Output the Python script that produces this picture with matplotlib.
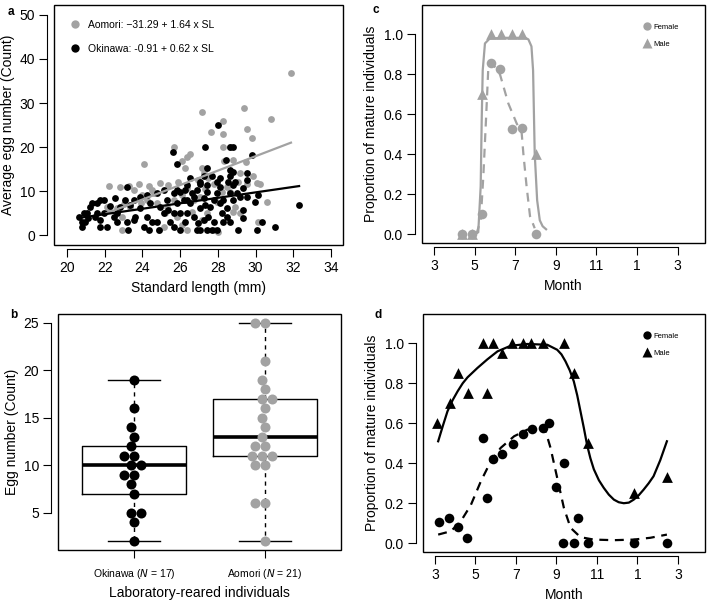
import numpy as np
import matplotlib
matplotlib.use("Agg")
import matplotlib.pyplot as plt
from matplotlib.patches import Rectangle
from matplotlib.lines import Line2D

plt.rcParams['font.family'] = ['Liberation Sans', 'DejaVu Sans']

GREY = '#a2a2a2'

# ---------------- panel a: wild-caught fish, egg number vs standard length
aomori_sl = [31.88, 27.15, 29.41, 30.80, 28.26, 27.63, 29.57, 29.83, 28.26, 25.65,
             28.26, 28.65, 26.53, 26.36, 26.09, 24.06, 29.50, 28.33, 28.83, 27.24,
             26.27, 27.15, 29.18, 22.20, 23.27, 23.80, 23.53, 24.33, 24.50, 24.94,
             25.38, 24.59, 24.24, 23.35, 23.90, 22.91, 22.65, 22.20, 24.77, 25.30,
             26.09, 25.65, 26.36, 26.97, 27.50, 27.77, 28.21, 28.65, 29.09, 29.53,
             30.06, 30.15, 30.59, 30.24, 28.92, 28.83, 29.18, 22.91, 24.90, 25.12,
             27.15, 27.42, 26.62, 25.83, 26.36, 26.09, 27.77, 28.03, 25.20, 26.71,
             27.06, 27.94, 29.89, 22.80, 22.10, 23.00, 24.00, 25.90, 27.30, 28.50]
aomori_egg = [36.9, 28.0, 28.9, 26.4, 25.8, 23.5, 24.0, 22.0, 23.0, 20.1,
              20.1, 20.1, 18.4, 17.8, 16.9, 16.1, 16.7, 16.9, 17.0, 14.0,
              15.2, 15.2, 14.2, 11.1, 11.1, 11.5, 10.2, 11.2, 10.2, 11.9,
              11.4, 9.5, 8.0, 6.4, 7.2, 4.2, 6.1, 5.7, 7.2, 6.4,
              9.1, 8.0, 10.6, 12.5, 12.9, 11.7, 9.8, 9.8, 12.1, 11.7,
              11.9, 3.0, 7.4, 11.7, 6.4, 5.3, 4.9, 1.1, 1.1, 1.9,
              3.4, 4.9, 5.3, 4.2, 1.1, 2.3, 1.1, 0.8, 4.9, 8.0,
              8.7, 7.6, 13.3, 10.9, 6.4, 7.0, 9.0, 12.0, 10.5, 11.0]

okinawa_sl = [28.03, 27.33, 28.83, 28.65, 25.61, 25.83, 28.44, 29.80, 27.42, 27.24,
              27.68, 28.83, 28.65, 29.53, 29.53, 26.53, 23.18, 28.56, 28.83, 27.94,
              27.06, 26.36, 25.65, 26.00, 25.12, 24.77, 24.24, 23.88, 23.53, 23.09,
              22.56, 21.94, 21.77, 21.59, 21.32, 20.88, 21.06, 20.62, 20.79, 20.79,
              21.10, 21.59, 21.77, 22.12, 22.47, 22.65, 23.18, 23.23, 23.62, 24.06,
              24.24, 24.50, 24.77, 25.12, 24.86, 25.38, 25.47, 25.83, 26.00, 25.65,
              26.36, 26.27, 26.53, 26.71, 26.88, 27.06, 27.24, 26.88, 27.06, 26.97,
              27.60, 27.77, 28.12, 28.30, 28.48, 28.65, 28.83, 29.00, 29.18, 27.77,
              27.68, 27.94, 28.21, 29.36, 29.36, 29.53, 29.06, 30.06, 29.97, 30.15,
              30.33, 31.03, 32.31, 26.18, 26.36, 26.62, 27.24, 27.42, 27.94, 28.12,
              27.33, 27.50, 26.71, 22.30, 21.94, 21.24, 21.50, 22.82, 23.35, 23.88,
              24.41, 24.94, 25.30, 25.83, 26.27, 27.06, 27.42, 28.12, 28.65, 28.92,
              29.36, 20.97, 21.77, 22.65, 23.53, 24.33, 26.00, 25.65, 27.42, 28.30,
              28.48, 28.65]
okinawa_egg = [25.0, 20.1, 20.1, 20.1, 18.9, 16.1, 17.0, 18.2, 15.2, 13.3,
               13.3, 14.4, 13.3, 14.0, 12.5, 12.9, 11.0, 12.1, 11.4, 12.1,
               11.7, 11.4, 9.5, 9.8, 10.2, 9.5, 9.1, 8.7, 8.0, 8.0,
               8.3, 8.0, 8.0, 7.3, 7.2, 4.9, 4.9, 4.2, 3.0, 1.9,
               3.8, 4.9, 3.4, 1.9, 4.2, 3.0, 3.0, 1.1, 4.2, 1.9,
               4.2, 3.0, 3.0, 4.9, 1.1, 5.7, 3.0, 7.2, 4.9, 4.9,
               4.9, 3.0, 7.2, 8.7, 10.2, 6.1, 3.4, 1.1, 1.1, 2.7,
               6.4, 8.0, 7.2, 8.0, 6.1, 9.5, 8.0, 9.5, 8.7, 3.0,
               1.1, 1.1, 4.9, 3.8, 5.7, 8.7, 1.1, 1.1, 7.6, 9.1,
               3.0, 1.9, 6.8, 8.0, 8.0, 9.5, 8.3, 9.8, 9.5, 11.0,
               6.8, 4.2, 4.2, 6.6, 4.9, 6.4, 4.2, 6.4, 6.8, 6.1,
               7.2, 6.4, 8.0, 10.2, 10.2, 12.1, 11.4, 12.9, 14.8, 12.1,
               10.6, 3.0, 1.9, 4.9, 3.4, 1.1, 1.1, 1.9, 1.1, 3.0,
               4.2, 3.0]

# fitted lines as drawn (intercept, slope); legend texts as printed
aomori_coef = (-31.29, 1.64)
okinawa_coef = (-8.91, 0.62)
legend_a = ['Aomori: \u221231.29 + 1.64 x SL', 'Okinawa: -0.91 + 0.62 x SL']

# ---------------- panel b: laboratory-reared individuals
okinawa_lab = [19, 16, 14, 13, 12, 11, 11, 10, 10, 9, 9, 8, 7, 5, 5, 4, 2]
aomori_lab = [25, 25, 21, 19, 18, 17, 17, 16, 15, 14, 13, 12, 12, 11, 11, 11,
              10, 10, 6, 6, 2]
lab_names = ['Okinawa', 'Aomori']

# ---------------- panel c: Aomori maturation
c_male_month = [4.36, 4.86, 5.35, 5.79, 6.28, 6.83, 7.32, 8.02]
c_male_prop = [0.0, 0.0, 0.70, 1.0, 1.0, 1.0, 1.0, 0.40]
c_female_month = [4.36, 4.86, 5.35, 5.79, 6.25, 6.83, 7.32, 8.02]
c_female_prop = [0.0, 0.0, 0.10, 0.855, 0.825, 0.525, 0.53, 0.0]
c_male_fit_month = [4.90, 5.05, 5.18, 5.30, 5.35, 5.40, 5.51, 5.75, 6.50, 7.50,
                    7.65, 7.80, 7.88, 7.96, 8.08, 8.21, 8.35, 8.52]
c_male_fit_prop = [0.0, 0.003, 0.01, 0.24, 0.57, 0.82, 0.955, 0.98, 0.983, 0.983,
                   0.975, 0.94, 0.82, 0.405, 0.17, 0.07, 0.04, 0.025]
c_female_fit_month = [5.05, 5.10, 5.30, 5.43, 5.56, 5.67, 5.84, 6.25, 6.66, 7.07,
                      7.32, 7.40, 7.56, 7.73, 7.96]
c_female_fit_prop = [0.0, 0.005, 0.07, 0.29, 0.57, 0.82, 0.86, 0.80, 0.655, 0.555,
                     0.505, 0.405, 0.24, 0.09, 0.03]

# ---------------- panel d: Okinawa maturation
d_male_month = [3.10, 3.76, 4.12, 4.61, 5.35, 5.56, 5.89, 6.33, 6.79, 7.35, 7.76,
                8.35, 9.40, 9.86, 10.57, 12.82, 14.46]
d_male_prop = [0.60, 0.70, 0.85, 0.75, 1.0, 0.75, 1.0, 0.95, 1.0, 1.0, 1.0,
               1.0, 1.0, 0.85, 0.50, 0.25, 0.33]
d_female_month = [3.18, 3.71, 4.12, 4.58, 5.35, 5.56, 5.89, 6.33, 6.86, 7.37, 7.79,
                  8.35, 8.63, 8.96, 9.40, 9.34, 9.86, 10.06, 10.57, 12.85, 14.46]
d_female_prop = [0.105, 0.125, 0.08, 0.027, 0.527, 0.227, 0.423, 0.448, 0.498,
                 0.548, 0.573, 0.578, 0.60, 0.28, 0.40, 0.0, 0.0, 0.125, 0.0,
                 0.0, 0.0]
d_male_fit_month = [3.16, 3.40, 3.62, 3.87, 4.12, 4.37, 4.61, 5.10, 5.59, 6.09,
                    6.74, 7.56, 8.55, 9.04, 9.25, 9.45, 9.66, 9.86, 10.03, 10.19,
                    10.36, 10.52, 10.68, 10.85, 11.10, 11.34, 11.59, 11.84, 12.08,
                    12.33, 12.58, 12.82, 13.07, 13.31, 13.56, 13.80, 14.13, 14.46]
d_male_fit_prop = [0.51, 0.59, 0.66, 0.715, 0.76, 0.80, 0.83, 0.877, 0.92, 0.96,
                   0.988, 0.997, 0.993, 0.968, 0.945, 0.91, 0.865, 0.81, 0.74,
                   0.66, 0.575, 0.49, 0.425, 0.37, 0.315, 0.277, 0.243, 0.218,
                   0.205, 0.20, 0.203, 0.218, 0.24, 0.268, 0.30, 0.335, 0.415,
                   0.51]
d_female_fit_month = [3.16, 3.79, 4.28, 4.77, 5.27, 5.76, 6.25, 6.91, 7.56, 8.22,
                      8.47, 8.71, 9.04, 9.37, 9.70, 10.19, 10.85, 11.84, 12.82,
                      13.64, 14.46]
d_female_fit_prop = [0.043, 0.06, 0.11, 0.19, 0.31, 0.41, 0.477, 0.535, 0.568,
                     0.577, 0.56, 0.477, 0.327, 0.177, 0.077, 0.03, 0.018, 0.015,
                     0.018, 0.027, 0.043]

month_ticks = [3, 5, 7, 9, 11, 13, 15]
month_labels = ['3', '5', '7', '9', '11', '1', '3']


def r_axes(ax, xbounds, ybounds, xline=True):
    # R-like look: closed box plus detached axes with outward ticks
    ax.add_patch(Rectangle((0, 0), 1, 1, transform=ax.transAxes, fill=False,
                           lw=1.0, ec='black', clip_on=False, zorder=5))
    for s in ('top', 'right'):
        ax.spines[s].set_visible(False)
    ax.spines['left'].set_position(('outward', 5))
    ax.spines['left'].set_bounds(*ybounds)
    ax.spines['bottom'].set_position(('outward', 3))
    ax.spines['bottom'].set_bounds(*xbounds)
    ax.spines['bottom'].set_visible(xline)
    ax.tick_params(direction='out', length=5.5, width=0.8, labelsize=10, pad=3)


def swarm(values, center, ppx, ppy, d=9.9):
    # simple beeswarm: place points (in pixel space) at smallest free offset
    placed = []
    xs = []
    for v in values:
        y = v * ppy
        cands = [0.0]
        for px, py in placed:
            dy = abs(py - y)
            if dy < d:
                dx = np.sqrt(d * d - dy * dy)
                cands += [px - dx, px + dx]
        cands = sorted(cands, key=lambda c: (round(abs(c), 6), c))
        for c in cands:
            if all((c - px) ** 2 + (y - py) ** 2 >= d * d - 1e-6 for px, py in placed):
                break
        placed.append((c, y))
        xs.append(center + c / ppx)
    return xs


fig = plt.figure(figsize=(7.09, 6.02), dpi=100)

# ---------------- a
ax = fig.add_axes([0.0762, 0.593, 0.4076, 0.3987])
ax.scatter(aomori_sl, aomori_egg, s=24, color=GREY, lw=0, zorder=2)
ax.scatter(okinawa_sl, okinawa_egg, s=24, color='black', lw=0, zorder=3)
for sl, coef, col in ((aomori_sl, aomori_coef, GREY), (okinawa_sl, okinawa_coef, 'black')):
    xs = np.array([min(sl), max(sl)])
    ax.plot(xs, coef[0] + coef[1] * xs, color=col, lw=1.6, zorder=4)
ax.set_xlim(19.31, 34.64)
ax.set_ylim(-2.27, 52.27)
ax.set_xticks(range(20, 35, 2))
ax.set_yticks(range(0, 51, 10))
r_axes(ax, (20, 34), (0, 50))
ax.set_xlabel('Standard length (mm)', fontsize=10, labelpad=4)
ax.set_ylabel('Average egg number (Count)', fontsize=10, labelpad=3)
handles = [Line2D([], [], ls='none', marker='o', ms=6, color=GREY, mec='none'),
           Line2D([], [], ls='none', marker='o', ms=6, color='black', mec='none')]
ax.legend(handles, legend_a, loc='upper left', bbox_to_anchor=(0.037, 0.955),
          frameon=False, fontsize=7.5, handletextpad=0.6, labelspacing=1.35,
          borderaxespad=0.0, handlelength=1.2)

# ---------------- b
ax = fig.add_axes([0.0818, 0.0864, 0.399, 0.392])
bp = ax.boxplot([okinawa_lab, aomori_lab], positions=[1, 2], widths=0.8,
                capwidths=0.4, showfliers=False, patch_artist=False,
                medianprops=dict(color='black', lw=2.6),
                boxprops=dict(color='black', lw=1.0),
                whiskerprops=dict(color='black', lw=1.0, ls=(0, (3, 3))),
                capprops=dict(color='black', lw=1.0))
ppx, ppy = 131.0, 9.47
for i, (vals, col) in enumerate(((okinawa_lab, 'black'), (aomori_lab, GREY))):
    vs = sorted(vals)
    ax.scatter(swarm(vs, i + 1, ppx, ppy), vs, s=52, color=col, lw=0, zorder=4)
ax.set_xlim(0.42, 2.58)
ax.set_ylim(1.08, 25.92)
ax.set_yticks([5, 10, 15, 20, 25])
ax.set_xticks([1, 2])
ax.set_xticklabels(['%s ($\\mathit{N}$ = %d)' % (n, len(v))
                    for n, v in zip(lab_names, (okinawa_lab, aomori_lab))])
r_axes(ax, (1, 2), (5, 25), xline=False)
ax.spines['bottom'].set_position(('outward', 0))
ax.tick_params(axis='x', labelsize=7.5, pad=7)
ax.set_xlabel('Laboratory-reared individuals', fontsize=10, labelpad=3)
ax.set_ylabel('Egg number (Count)', fontsize=10, labelpad=3)


def maturity(ax, col, mm, mp, fm, fp, mfm, mfp, ffm, ffp):
    ax.plot(mfm, mfp, color=col, lw=1.6, zorder=2)
    ax.plot(ffm, ffp, color=col, lw=1.6, ls=(0, (4, 3)), zorder=2)
    ax.scatter(fm, fp, s=48, marker='o', color=col, lw=0, zorder=3)
    ax.scatter(mm, mp, s=60, marker='^', color=col, lw=0, zorder=3)
    ax.set_xlim(2.41, 16.34)
    ax.set_ylim(-0.044, 1.147)
    ax.set_xticks(month_ticks)
    ax.set_xticklabels(month_labels)
    ax.set_yticks(np.arange(0, 1.01, 0.2))
    ax.set_yticklabels(['%.1f' % v for v in np.arange(0, 1.01, 0.2)])
    r_axes(ax, (3, 15), (0, 1))
    ax.set_xlabel('Month', fontsize=10, labelpad=4)
    ax.set_ylabel('Proportion of mature individuals', fontsize=10, labelpad=4)
    hs = [Line2D([], [], ls='none', marker='o', ms=6, color=col, mec='none'),
          Line2D([], [], ls='none', marker='^', ms=6.5, color=col, mec='none')]
    ax.legend(hs, ['Female', 'Male'], loc='upper right', frameon=False,
              fontsize=5.5, handletextpad=0.4, labelspacing=1.3,
              borderaxespad=1.2, handlelength=1.0, bbox_to_anchor=(0.952, 0.975))


# ---------------- c
ax = fig.add_axes([0.5952, 0.5963, 0.399, 0.3953])
maturity(ax, GREY, c_male_month, c_male_prop, c_female_month, c_female_prop,
         c_male_fit_month, c_male_fit_prop, c_female_fit_month, c_female_fit_prop)

# ---------------- d
ax = fig.add_axes([0.5966, 0.0831, 0.3977, 0.3953])
maturity(ax, 'black', d_male_month, d_male_prop, d_female_month, d_female_prop,
         d_male_fit_month, d_male_fit_prop, d_female_fit_month, d_female_fit_prop)

for lab, x, y in (('a', 8, 12), ('b', 10, 315), ('c', 373, 10), ('d', 375, 315)):
    fig.text(x / 709, 1 - y / 602, lab, fontsize=8.5, fontweight='bold',
             ha='left', va='center')

fig.savefig('out.png', dpi=100)
